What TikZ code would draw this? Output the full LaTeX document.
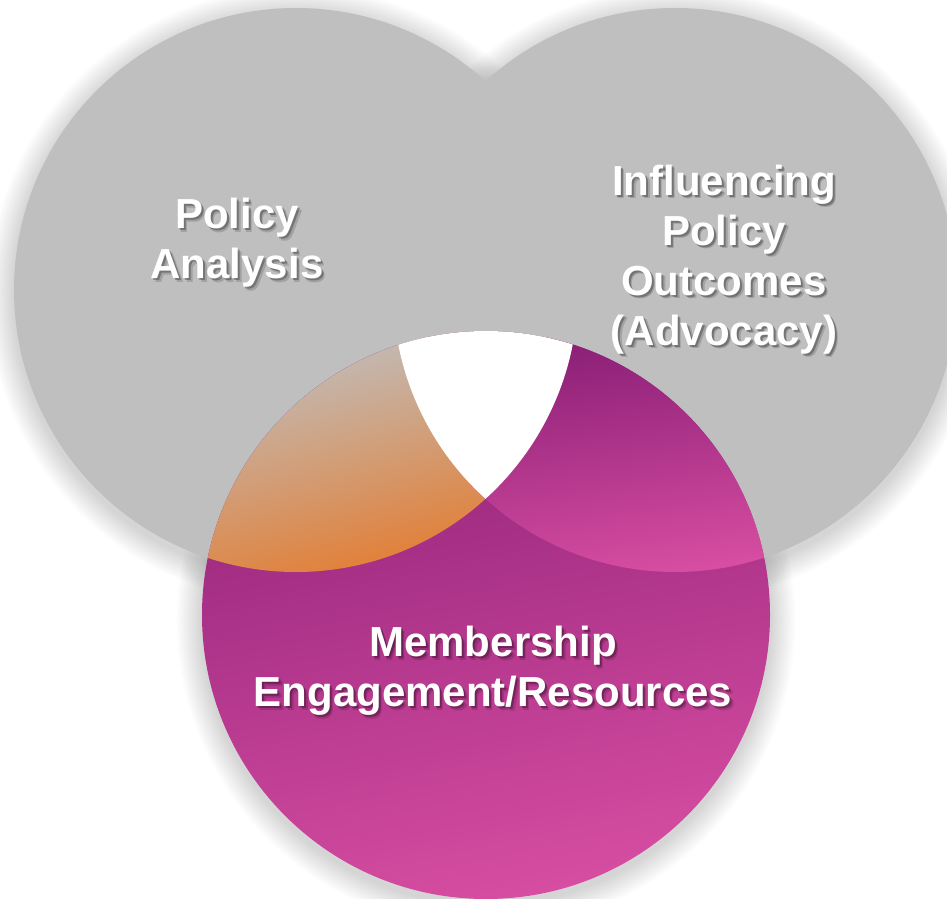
\documentclass[tikz,border=0pt]{standalone}
\usepackage{fontspec}
\setmainfont{Liberation Sans}
\definecolor{cgray}{HTML}{BFBFBF}
\definecolor{magtop}{HTML}{8C2077}
\definecolor{magbot}{HTML}{D64DA1}
\definecolor{orng}{HTML}{E47C30}
\definecolor{pinktop}{HTML}{8A1F76}
\definecolor{pinkbot}{HTML}{D84EA2}
\begin{document}
\begin{tikzpicture}[x=1pt,y=1pt,
  txt/.style={font=\bfseries\fontsize{42}{50}\selectfont, align=center, text=white, inner sep=0pt},
  shd/.style={txt, text=black, text opacity=0.28},
  shd2/.style={txt, text=black, text opacity=0.15}]
\useasboundingbox (0,0) rectangle (947,898);
\clip (0,0) rectangle (947,898);
\coordinate (L) at (296,608);
\coordinate (R) at (675,608);
\coordinate (B) at (486,283);
% soft shadows
\foreach \c/\r in {L/282,R/282,B/284}{
  \foreach \i in {1,...,14}{
    \fill[black,opacity=0.013] ([yshift=-5pt]\c) circle ({(\r+1.8*\i)*1pt});
  }
}
% gray circles
\fill[cgray] (L) circle (282pt);
\fill[cgray] (R) circle (282pt);
% bottom circle
\shade[top color=magtop, bottom color=magbot, shading angle=12] (B) circle (284pt);
% left & bottom overlap: orange
\begin{scope}
  \clip (L) circle (282pt);
  \clip (B) circle (284pt);
  \shade[top color=cgray, bottom color=orng, shading angle=15] (195,320) rectangle (500,560);
\end{scope}
% right & bottom overlap: pink
\begin{scope}
  \clip (R) circle (282pt);
  \clip (B) circle (284pt);
  \shade[top color=pinktop, bottom color=pinkbot, shading angle=8] (470,320) rectangle (780,560);
\end{scope}
% triple overlap: white
\begin{scope}
  \clip (L) circle (282pt);
  \clip (R) circle (282pt);
  \fill[white] (B) circle (284pt);
\end{scope}
% labels with soft drop shadows
\node[shd2] (pa-s2) at (240.5,651.5) {Policy\\Analysis};
\node[shd] (pa-s) at (239,653) {Policy\\Analysis};
\node[txt] (pa) at (237,655) {Policy\\Analysis};
\node[shd2] (ip-s2) at (727.5,635) {Influencing\\Policy\\Outcomes\\(Advocacy)};
\node[shd] (ip-s) at (726,636.5) {Influencing\\Policy\\Outcomes\\(Advocacy)};
\node[txt] (ip) at (724,638.5) {Influencing\\Policy\\Outcomes\\(Advocacy)};
\node[shd2] (me-s2) at (496.5,223.5) {Membership\\Engagement/Resources};
\node[shd] (me-s) at (495,225) {Membership\\Engagement/Resources};
\node[txt] (me) at (493,227) {Membership\\Engagement/Resources};
\end{tikzpicture}
\end{document}
